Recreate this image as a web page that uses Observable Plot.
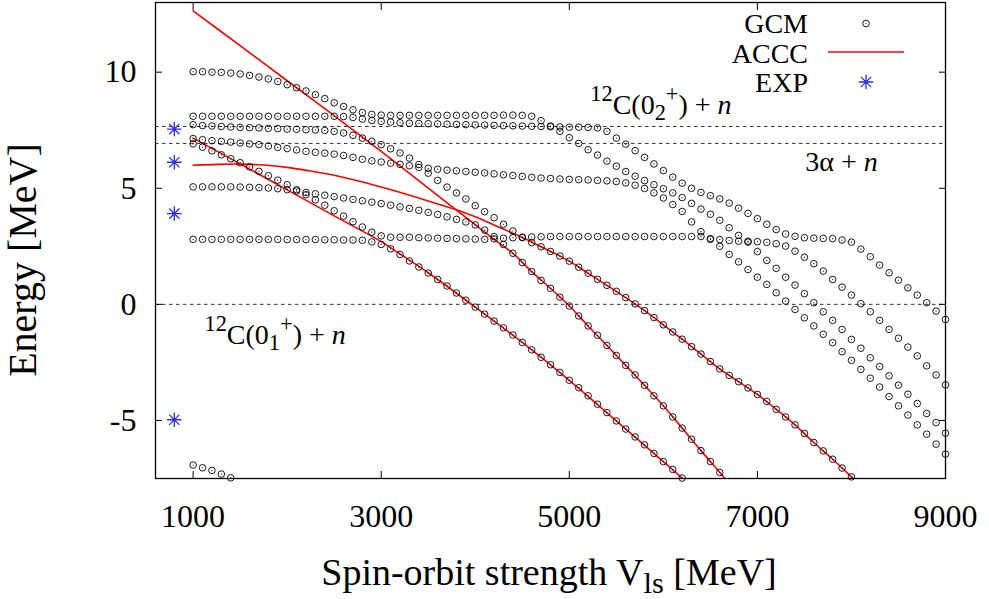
<!DOCTYPE html>
<html><head><meta charset="utf-8">
<script src="https://cdn.jsdelivr.net/npm/d3@7"></script>
<script src="https://cdn.jsdelivr.net/npm/@observablehq/plot@0.6"></script>
<style>html,body{margin:0;padding:0;background:#fff;} svg{display:block}</style>
</head><body><div id="chart"></div>
<script>
// ---------------- data ----------------
const xTicks = [1000, 3000, 5000, 7000, 9000];
const yTicks = [-5, 0, 5, 10];
const vlsStart = 1000, vlsStep = 100;   // GCM sampled every 100 MeV from 1000

const gcmS0 = [-6.92,-7.04,-7.15,-7.31,-7.47];
const gcmRow1 = [2.80,2.80,2.80,2.80,2.80,2.80,2.80,2.80,2.80,2.80,2.79,2.79,2.79,2.79,2.78,2.78,2.77,2.77,2.76,
  2.69,2.58,2.39,2.15,1.87,1.61,1.35,1.07,0.79,0.49,0.18,
  -0.12,-0.42,-0.72,-1.01,-1.32,-1.64,-1.96,-2.28,-2.60,-2.93,
  -3.27,-3.59,-3.94,-4.30,-4.66,-5.02,-5.37,-5.71,-6.05,-6.42,
  -6.77,-7.11,-7.48];
const gcmRow2 = [6.91,6.77,6.61,6.44,6.27,6.10,5.92,5.73,5.54,5.35,
  5.15,4.94,4.72,4.50,4.27,4.03,3.80,3.56,3.33,3.11,
  2.95,2.89,2.89,2.89,2.87,2.86,2.85,2.84,2.83,2.82,
  2.81,2.80,2.82,2.85,2.87,2.89,2.90,2.91,2.92,2.92,
  2.92,2.92,2.92,2.92,2.92,2.92,2.92,2.92,2.92,2.92,
  2.92,2.92,2.92,2.92,2.92,2.80,2.50,2.15,1.83,1.50,
  1.17,0.86,0.50,0.14,-0.22,-0.58,-0.93,-1.29,-1.65,-2.04,
  -2.41,-2.80,-3.18,-3.56,-3.97,-4.37,-4.77,-5.19,-5.59,-6.02,-6.45];
const gcmRow3 = [5.06,5.06,5.06,5.06,5.06,5.05,5.04,5.03,5.01,4.98,
  4.94,4.88,4.82,4.76,4.70,4.64,4.58,4.52,4.46,4.40,
  4.34,4.27,4.20,4.13,4.05,3.96,3.87,3.77,3.66,3.55,
  3.42,3.20,2.92,2.58,2.20,1.80,1.41,1.03,0.69,0.31,
  -0.07,-0.50,-0.93,-1.33,-1.77,-2.20,-2.63,-3.04,-3.49,-3.94,
  -4.37,-4.85,-5.33,-5.81,-6.30,-6.77,-7.24];
const gcmRowW = [7.74,7.70,7.68,7.66,7.64,7.62,7.61,7.60,7.58,7.57,
  7.55,7.54,7.52,7.51,7.49,7.45,7.38,7.28,7.16,7.02,
  6.88,6.70,6.52,6.30,6.02,5.65,5.34,5.05,4.80,4.54,
  4.25,3.99,3.73,3.45,3.16,2.88,2.66,2.48,2.28,2.08,
  1.86,1.60,1.34,1.08,0.82,0.56,0.29,0.02,-0.27,-0.57,
  -0.88,-1.19,-1.50,-1.82,-2.14,-2.46,-2.78,-3.06,-3.33,-3.60,
  -3.88,-4.18,-4.52,-4.85,-5.19,-5.56,-5.95,-6.31,-6.67,-7.05,-7.43];
const gcmRowR = [7.14,7.09,7.05,7.02,6.99,6.95,6.91,6.88,6.82,6.76,
  6.71,6.65,6.59,6.55,6.51,6.47,6.41,6.33,6.25,6.18,
  6.13,6.08,6.03,5.97,5.90,5.86,5.82,5.78,5.75,5.72,
  5.69,5.66,5.62,5.58,5.55,5.51,5.47,5.44,5.42,5.40,
  5.38,5.37,5.36,5.34,5.32,5.29,5.23,5.13,4.99,4.80,
  4.58,4.30,4.00,3.55,3.13,2.83,2.79,2.75,2.72,2.72,
  2.70,2.67,2.61,2.51,2.29,2.03,1.75,1.43,1.07,0.74,
  0.40,0.03,-0.32,-0.69,-1.08,-1.46,-1.84,-2.22,-2.65,-3.04,-3.47];
const gcmRowP = [8.10,8.10,8.10,8.10,8.10,8.10,8.10,8.10,8.10,8.10,
  8.10,8.10,8.10,8.10,8.10,8.10,8.09,8.05,7.98,7.92,
  7.88,7.85,7.82,7.80,7.79,7.78,7.77,7.76,7.75,7.74,
  7.73,7.72,7.71,7.70,7.69,7.68,7.67,7.66,7.65,7.64,
  7.63,7.63,7.62,7.60,7.45,7.16,6.90,6.62,6.33,6.05,
  5.76,5.48,5.22,5.00,4.82,4.68,4.54,4.36,4.14,3.92,
  3.69,3.45,3.22,3.03,2.93,2.87,2.85,2.84,2.83,2.77,
  2.68,2.38,2.05,1.69,1.36,1.04,0.71,0.40,0.07,-0.29,-0.65];
const gcmRowU = [10.02,10.02,10.00,9.99,9.96,9.92,9.86,9.79,9.71,9.60,
  9.46,9.33,9.19,9.03,8.86,8.68,8.52,8.38,8.26,8.18,
  8.15,8.14,8.14,8.14,8.14,8.14,8.14,8.14,8.14,8.14,
  8.14,8.14,8.14,8.15,8.15,8.14,8.10,7.91,7.68,7.45,
  7.18,6.93,6.66,6.43,6.17,5.95,5.72,5.52,5.33,5.15,
  4.98,4.80,4.60,4.35,4.10,3.88,3.62,3.30,2.97,2.68,
  2.27,1.89,1.55,1.17,0.83,0.46,0.07,-0.32,-0.69,-1.08,
  -1.51,-1.89,-2.30,-2.68,-3.08,-3.48,-3.87,-4.27,-4.70,-5.09,-5.55];

// ACCC curves
const accc1X = [1000,1500,2000,2500,3000,3500,3800,4000,4200,4400,4600,4800,5000,5200,5400,5600,5800,6000,6200,6400,6600,6700];
const accc1Y = [12.64,11.14,9.63,8.13,6.59,5.01,4.06,3.43,2.80,2.20,1.41,0.69,-0.07,-0.93,-1.77,-2.63,-3.49,-4.37,-5.33,-6.30,-7.24,-7.72];
const accc2X = [1000,1250,1500,1750,2000,2250,2500,2750,3000,3250,3500,3800,4000,4250,4500,4700,4900,5000,5200,5400,5600,5800,6000,6200,6400,6600,6800,7000,7200,7400,7600,7800,8000,8050];
const accc2Y = [5.99,6.03,6.04,6.00,5.90,5.74,5.56,5.32,5.05,4.76,4.45,4.07,3.77,3.33,2.88,2.48,2.08,1.86,1.34,0.82,0.29,-0.27,-0.88,-1.50,-2.14,-2.78,-3.33,-3.88,-4.52,-5.19,-5.95,-6.67,-7.43,-7.62];
const accc3X = [1000,1500,2000,2500,3000,3200,3500,4000,4500,5000,5500,6000,6200,6250];
const accc3Y = [7.16,6.05,4.93,3.81,2.70,2.17,1.36,-0.12,-1.64,-3.27,-5.02,-6.77,-7.48,-7.66];

// experiment
const expX = [800, 800, 800, 800];
const expY = [7.55, 6.12, 3.91, -4.97];

// thresholds (dashed)
const thresholds = [0, 6.93, 7.66];

// annotation anchors (data units)
const annoX = [5228, 7514, 1126];
const annoY = [8.18, 5.73, -1.71];

// ---------------- build ----------------
const gcmSeries = [gcmS0, gcmRow1, gcmRow2, gcmRow3, gcmRowW, gcmRowR, gcmRowP, gcmRowU];
const gcm = gcmSeries.flatMap((vals, s) => vals.map((e, i) => ({vls: vlsStart + vlsStep * i, e, s})))
  .filter(d => d.e >= -7.62 && d.e <= 13);
const accc = [[accc1X, accc1Y], [accc2X, accc2Y], [accc3X, accc3Y]]
  .flatMap(([xs, ys], c) => xs.map((x, i) => ({vls: x, e: ys[i], c})));
const exp = expX.map((x, i) => ({vls: x, e: expY[i]}));

const asterisk8 = {draw(ctx, size) {
  const r = Math.sqrt(size) / 2, d = r * Math.SQRT1_2;
  ctx.moveTo(-r, 0); ctx.lineTo(r, 0); ctx.moveTo(0, -r); ctx.lineTo(0, r);
  ctx.moveTo(-d, -d); ctx.lineTo(d, d); ctx.moveTo(-d, d); ctx.lineTo(d, -d);
}};

const FONT = "Liberation Serif, Times New Roman, serif";
const fmt = d => String(d);
const EXPR = 8.2;

const chart = Plot.plot({
  width: 989, height: 599,
  marginLeft: 155, marginRight: 44, marginTop: 2, marginBottom: 121,
  style: {fontFamily: FONT, background: "white", overflow: "visible"},
  x: {domain: [600, 9000]},
  y: {domain: [-7.5, 13]},
  marks: [
    Plot.ruleY(thresholds, {stroke: "#333", strokeWidth: 1, strokeDasharray: "3.5,3.5"}),
    Plot.line(accc, {x: "vls", y: "e", z: "c", stroke: "#ff0000", strokeWidth: 1.6, curve: "catmull-rom", clip: true}),
    Plot.dot(gcm, {x: "vls", y: "e", r: 3.3, stroke: "black", strokeWidth: 0.9, fill: "none"}),
    Plot.dot(gcm, {x: "vls", y: "e", r: 0.6, fill: "black", stroke: "none"}),
    Plot.dot(exp, {x: "vls", y: "e", symbol: asterisk8, r: EXPR, stroke: "#2b2bff", strokeWidth: 1.3, fill: "none"}),
    Plot.frame({stroke: "black", strokeWidth: 1.3}),
    Plot.axisX(xTicks, {anchor: "bottom", tickSize: -7, tickFormat: () => "", label: null}),
    Plot.axisX(xTicks, {anchor: "top", tickSize: -7, tickFormat: () => "", label: null}),
    Plot.axisY(yTicks, {anchor: "left", tickSize: -7, tickFormat: () => "", label: null}),
    Plot.axisY(yTicks, {anchor: "right", tickSize: -7, tickFormat: () => "", label: null}),
    Plot.axisX(xTicks, {anchor: "bottom", tickSize: 0, tickPadding: 26, tickFormat: fmt, label: null, fontSize: 32}),
    Plot.axisY(yTicks, {anchor: "left", tickSize: 0, tickPadding: 19, tickFormat: fmt, label: null, fontSize: 32})
  ]
});
document.getElementById("chart").appendChild(chart);

// ---------------- rich text ----------------
const svg = d3.select(chart);
const sx = chart.scale("x"), sy = chart.scale("y");
function rich(x, y, parts, size, anchor = "start", rotate = 0) {
  const t = svg.append("text").attr("x", x).attr("y", y).attr("font-size", size)
    .attr("text-anchor", anchor).attr("fill", "black").attr("font-family", FONT)
    .style("white-space", "pre");
  if (rotate) t.attr("transform", `rotate(${rotate},${x},${y})`);
  let cur = 0;
  for (const p of parts) {
    const target = p.sup ? -0.45 * size : p.sub ? 0.22 * size : 0;
    const ts = t.append("tspan").text(p.t).attr("dy", target - cur);
    if (p.sup || p.sub) ts.attr("font-size", 0.8 * size);
    if (p.it) ts.attr("font-style", "italic");
    cur = target;
  }
  return t;
}
const A = 28;
rich(sx.apply(annoX[0]), sy.apply(annoY[0]), [{t: "12", sup: 1}, {t: "C(0"}, {t: "2", sub: 1}, {t: "+", sup: 1}, {t: ") + "}, {t: "n", it: 1}], A);
rich(sx.apply(annoX[1]), sy.apply(annoY[1]), [{t: "3α + "}, {t: "n", it: 1}], A);
rich(sx.apply(annoX[2]), sy.apply(annoY[2]), [{t: "12", sup: 1}, {t: "C(0"}, {t: "1", sub: 1}, {t: "+", sup: 1}, {t: ") + "}, {t: "n", it: 1}], A);

// axis titles
rich(549, 585, [{t: "Spin-orbit strength V"}, {t: "ls", sub: 1}, {t: " [MeV]"}], 38, "middle");
rich(36, 260, [{t: "Energy [MeV]"}], 40, "middle", -90);

// legend
const legX = 808, legSym = 866;
const legend = [{t: "GCM", y: 33}, {t: "ACCC", y: 62.5}, {t: "EXP", y: 92}];
legend.forEach(l => rich(legX, l.y, [{t: l.t}], A, "end"));
svg.append("circle").attr("cx", legSym).attr("cy", 23.5).attr("r", 3.3).attr("fill", "none").attr("stroke", "black").attr("stroke-width", 0.9);
svg.append("circle").attr("cx", legSym).attr("cy", 23.5).attr("r", 0.6).attr("fill", "black");
svg.append("line").attr("x1", 828).attr("x2", 904).attr("y1", 52).attr("y2", 52).attr("stroke", "#ff0000").attr("stroke-width", 1.6);
const ap = d3.path(); asterisk8.draw(ap, EXPR * EXPR * Math.PI);
svg.append("path").attr("d", ap.toString()).attr("transform", `translate(${legSym},82)`).attr("stroke", "#2b2bff").attr("stroke-width", 1.3).attr("fill", "none");
</script></body></html>
